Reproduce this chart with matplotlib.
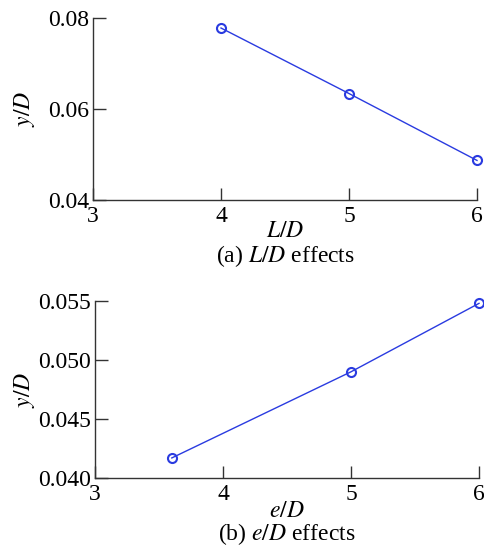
import matplotlib
matplotlib.use("Agg")
import matplotlib.pyplot as plt

plt.rcParams['font.family'] = ['Liberation Serif', 'DejaVu Serif']
plt.rcParams['mathtext.fontset'] = 'stix'

LD_x = [4, 5, 6]
LD_y = [0.0778, 0.0634, 0.0487]
eD_x = [3.6, 5, 6]
eD_y = [0.0417, 0.0490, 0.0548]

a_yticks = [0.04, 0.06, 0.08]
a_yticklabels = ['0.04', '0.06', '0.08']
b_yticks = [0.040, 0.045, 0.050, 0.055]
b_yticklabels = ['0.040', '0.045', '0.050', '0.055']
xticks = [3, 4, 5, 6]

W, H = 484, 547
fig = plt.figure(figsize=(W/100, H/100), dpi=100)

def px(l, r, t, b):
    return [l/W, 1 - b/H, (r-l)/W, (b-t)/H]

ax1 = fig.add_axes(px(93, 477, 18, 200))
ax2 = fig.add_axes(px(95, 479, 301, 478))

color = '#2a3be0'
spine_c = '#333333'
fs = 17

for ax, x, y, yt, ytl, xlim, ylim, xl, cap, xly, capy, ylx in [
    (ax1, LD_x, LD_y, a_yticks, a_yticklabels, (3, 6), (0.04, 0.08), '$L/D$', '(a) $L/D$ effects', -0.175, -0.31, -0.145),
    (ax2, eD_x, eD_y, b_yticks, b_yticklabels, (3, 6), (0.040, 0.055), '$e/D$', '(b) $e/D$ effects', -0.188, -0.314, -0.15),
]:
    ax.plot(x, y, color=color, lw=1.0, marker='o', markersize=6.5,
            markerfacecolor='none', markeredgecolor=color, markeredgewidth=1.5, clip_on=False, zorder=5)
    ax.set_xlim(*xlim)
    ax.set_ylim(*ylim)
    ax.set_xticks(xticks)
    ax.set_xticklabels([str(v) for v in xticks])
    ax.set_yticks(yt)
    ax.set_yticklabels(ytl)
    for s in ['top', 'right']:
        ax.spines[s].set_visible(False)
    for s in ['left', 'bottom']:
        ax.spines[s].set_color(spine_c)
        ax.spines[s].set_linewidth(1.0)
    ax.tick_params(direction='in', length=9, width=1.0, color=spine_c, labelsize=fs)
    ax.tick_params(axis='y', pad=3)
    ax.tick_params(axis='x', pad=4)
    ax.set_ylabel('$y/D$', fontsize=fs)
    ax.yaxis.set_label_coords(ylx, 0.5)
    ax.set_xlabel(xl, fontsize=fs, va='center')
    ax.xaxis.set_label_coords(0.5, xly)
    ax.text(0.5, capy, cap, transform=ax.transAxes,
            ha='center', va='center', fontsize=fs)

fig.savefig('out.png', dpi=100)
